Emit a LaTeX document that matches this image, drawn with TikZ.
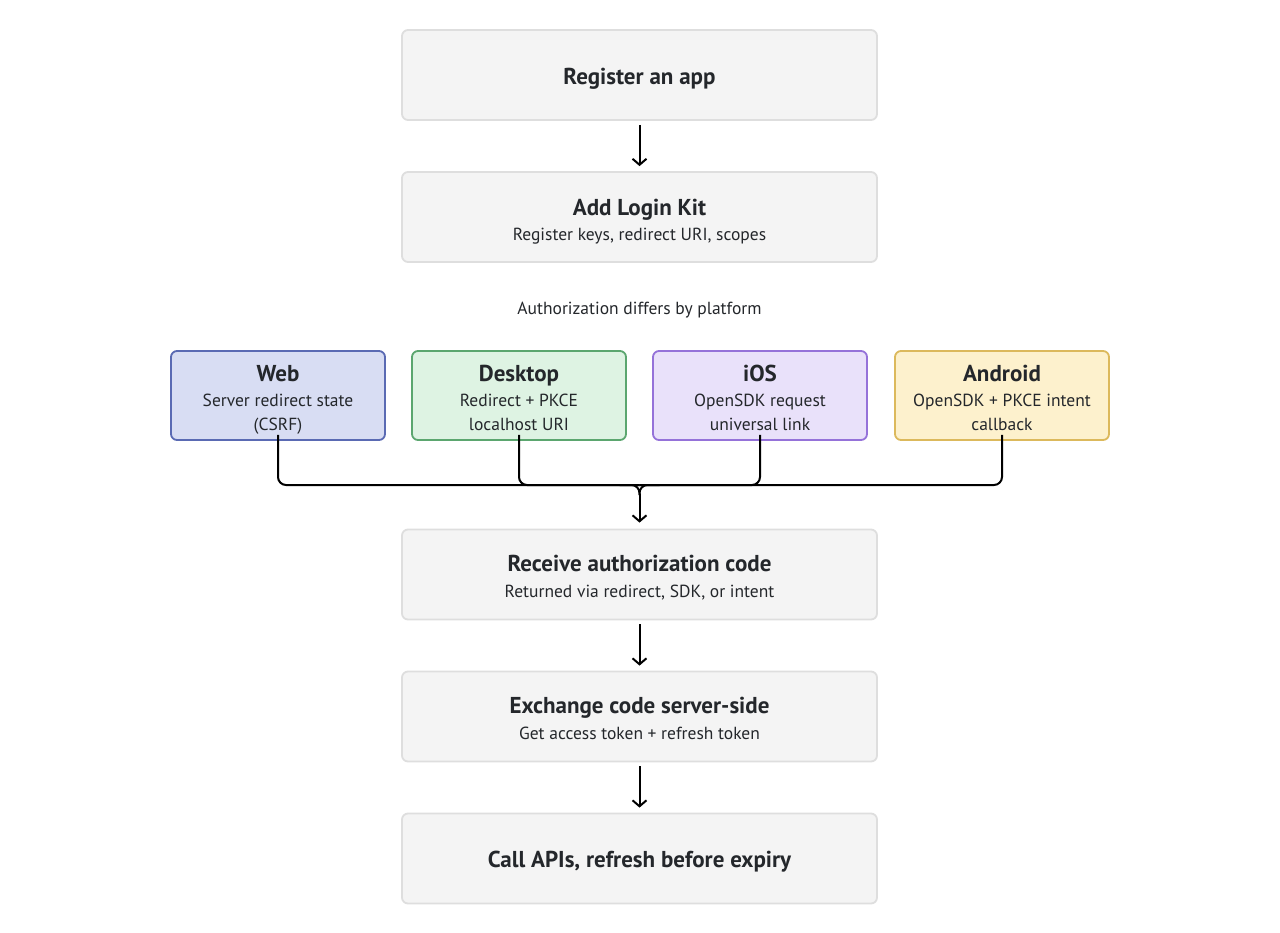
\documentclass[tikz,border=0pt]{standalone}
\usepackage{fontspec}
\setmainfont{PT Sans}
\usetikzlibrary{arrows.meta}
\definecolor{boxfill}{HTML}{F4F4F4}
\definecolor{boxline}{HTML}{DEDEDE}
\definecolor{ink}{HTML}{24272B}
\definecolor{webfill}{HTML}{D8DDF3}
\definecolor{webline}{HTML}{5A6AB3}
\definecolor{deskfill}{HTML}{DEF3E3}
\definecolor{deskline}{HTML}{5BA66F}
\definecolor{iosfill}{HTML}{E9E1FA}
\definecolor{iosline}{HTML}{9572D9}
\definecolor{andfill}{HTML}{FDF1CD}
\definecolor{andline}{HTML}{DCB95C}
\tikzset{
  stepbox/.style={draw=boxline, fill=boxfill, line width=1.8pt, rounded corners=6pt,
    minimum width=475pt, minimum height=90pt, inner sep=0pt},
  platbox/.style={line width=1.8pt, rounded corners=6pt,
    minimum width=214pt, minimum height=89pt, inner sep=0pt},
  ttl/.style={font=\fontsize{23}{26}\selectfont\bfseries, text=ink, anchor=mid, inner sep=0pt},
  sub/.style={font=\fontsize{17.5}{20}\selectfont, text=ink, anchor=mid, inner sep=0pt},
  conn/.style={line width=2pt, draw=black, -{Straight Barb[length=6pt,width=14pt,line width=2pt]}},
  merge/.style={line width=2pt, draw=black, rounded corners=8pt},
}
\begin{document}
\begin{tikzpicture}[x=1pt,y=-1pt]
\useasboundingbox[fill=white] (0,0) rectangle (1280,932);
% main steps
\node[stepbox] (s1) at (639.5,75) {};
\node[ttl] (s1t) at (639.5,82) {Register an app};
\node[stepbox] (s2) at (639.5,217) {};
\node[ttl] (s2t) at (639.5,213) {Add Login Kit};
\node[sub] (s2s) at (639.5,238) {Register keys, redirect URI, scopes};
\node[sub] (hint) at (639.5,312) {Authorization differs by platform};
% platforms
\node[platbox, draw=webline, fill=webfill] (web) at (278,395.5) {};
\node[ttl] (webt) at (278,379) {Web};
\node[sub] (webs1) at (278,404) {Server redirect state};
\node[sub] (webs2) at (278,428) {(CSRF)};
\node[platbox, draw=deskline, fill=deskfill] (desk) at (519,395.5) {};
\node[ttl] (deskt) at (519,379) {Desktop};
\node[sub] (desks1) at (519,404) {Redirect + PKCE};
\node[sub] (desks2) at (519,428) {localhost URI};
\node[platbox, draw=iosline, fill=iosfill] (ios) at (760,395.5) {};
\node[ttl] (iost) at (760,379) {iOS};
\node[sub] (ioss1) at (760,404) {OpenSDK request};
\node[sub] (ioss2) at (760,428) {universal link};
\node[platbox, draw=andline, fill=andfill] (and) at (1002,395.5) {};
\node[ttl] (andt) at (1002,379) {Android};
\node[sub] (ands1) at (1002,404) {OpenSDK + PKCE intent};
\node[sub] (ands2) at (1002,428) {callback};
% lower steps
\node[stepbox] (s3) at (639.5,574.5) {};
\node[ttl] (s3t) at (639.5,569) {Receive authorization code};
\node[sub] (s3s) at (639.5,595) {Returned via redirect, SDK, or intent};
\node[stepbox] (s4) at (639.5,716.5) {};
\node[ttl] (s4t) at (639.5,711) {Exchange code server-side};
\node[sub] (s4s) at (639.5,737) {Get access token + refresh token};
\node[stepbox] (s5) at (639.5,858.5) {};
\node[ttl] (s5t) at (639.5,865) {Call APIs, refresh before expiry};
% connectors
\coordinate (j) at (639.5,485);
\draw[conn, shorten <=4pt, shorten >=5pt] (s1.south) -- (s2.north);
\draw[merge] ([yshift=6pt]web.south) |- (j);
\draw[merge] ([yshift=6pt]desk.south) |- (j);
\draw[merge] ([yshift=6pt]ios.south) |- (j);
\draw[merge] ([yshift=6pt]and.south) |- (j);
\draw[merge] ([xshift=-20pt]j) -- (j) -- ([yshift=-10pt]j);
\draw[merge] ([xshift=20pt]j) -- (j) -- ([yshift=-10pt]j);
\draw[conn, shorten >=6pt] ([yshift=-9pt]j) -- (s3.north);
\draw[conn, shorten <=4pt, shorten >=5pt] (s3.south) -- (s4.north);
\draw[conn, shorten <=4pt, shorten >=5pt] (s4.south) -- (s5.north);
\end{tikzpicture}
\end{document}
